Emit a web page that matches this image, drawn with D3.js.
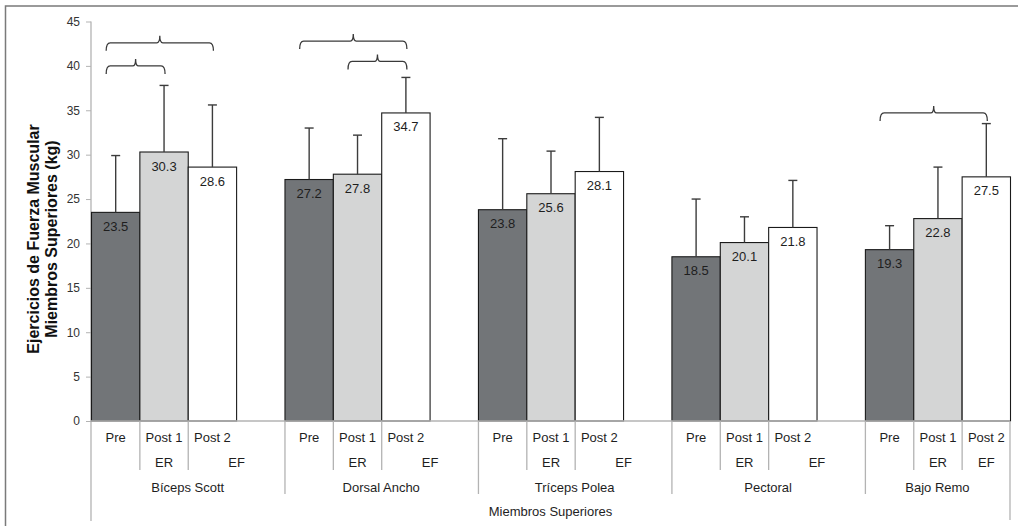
<!DOCTYPE html>
<html>
<head>
<meta charset="utf-8">
<script src="https://cdn.jsdelivr.net/npm/d3@7"></script>
<style>
  html, body { margin: 0; padding: 0; background: #fff; }
  svg { display: block; font-family: "Liberation Sans", Arial, sans-serif; }
</style>
</head>
<body>
<svg id="chart" width="1018" height="526"></svg>
<script>
// Exercise groups and measurement phases
const groups = ["Bíceps Scott", "Dorsal Ancho", "Tríceps Polea", "Pectoral", "Bajo Remo"];
const phases = ["Pre", "Post 1", "Post 2"];
const subLabels = ["", "ER", "EF"];
const axisTitle = "Miembros Superiores";
const yTitle = ["Ejercicios de Fuerza Muscular", "Miembros Superiores (kg)"];

// Mean strength (kg) per phase
const preValues   = [23.5, 27.2, 23.8, 18.5, 19.3];
const post1Values = [30.3, 27.8, 25.6, 20.1, 22.8];
const post2Values = [28.6, 34.7, 28.1, 21.8, 27.5];

// Standard deviation (upper error bar) per phase
const preErr   = [6.4, 5.8, 8.0, 6.5, 2.7];
const post1Err = [7.5, 4.4, 4.8, 2.9, 5.8];
const post2Err = [7.0, 4.0, 6.1, 5.3, 6.0];

const yTicks = [0, 5, 10, 15, 20, 25, 30, 35, 40, 45];

// Significance brackets: group index, from phase, to phase, level (kg)
const bracketGroup = [0, 0, 1, 1, 4];
const bracketFrom  = [0, 0, 0, 1, 0];
const bracketTo    = [2, 1, 2, 2, 2];
const bracketLevel = [42.6, 40.0, 42.8, 40.5, 34.7];

const fills = ["#727578", "#d4d5d5", "#ffffff"];
const seriesValues = [preValues, post1Values, post2Values];
const seriesErr = [preErr, post1Err, post2Err];

const svg = d3.select("#chart");

// Outer frame
svg.append("path")
  .attr("d", "M5.5,530 L5.5,6 L1030,6")
  .attr("fill", "none").attr("stroke", "#7a7a7a").attr("stroke-width", 1.5);

const plotLeft = 91, plotRight = 1010, plotTop = 21.5, plotBottom = 421;

// Slots: four per group (three phases + spacer), last group without spacer
const slots = [];
groups.forEach((g, gi) => {
  phases.forEach((p, pi) => slots.push(`${gi}-${pi}`));
  if (gi < groups.length - 1) slots.push(`${gi}-gap`);
});

const x = d3.scaleBand().domain(slots).range([plotLeft, plotRight]).padding(0);
const y = d3.scaleLinear().domain([0, 45]).range([plotBottom, plotTop]);

const axisColor = "#b3b3b3";

// Y axis
const yAxis = svg.append("g")
  .attr("transform", `translate(${plotLeft},0)`)
  .call(d3.axisLeft(y).tickValues(yTicks).tickSize(5).tickPadding(6));
yAxis.select(".domain").remove();
yAxis.selectAll(".tick line").attr("stroke", axisColor);
yAxis.selectAll(".tick text")
  .attr("fill", "#333").style("font-size", "12px")
  .style("font-family", "'Liberation Sans', Arial, sans-serif");
svg.append("line")
  .attr("x1", plotLeft).attr("x2", plotLeft).attr("y1", plotTop).attr("y2", 521)
  .attr("stroke", axisColor).attr("stroke-width", 1.3);

// Bars
const barData = [];
groups.forEach((g, gi) => phases.forEach((p, pi) => barData.push({
  gi, pi, value: seriesValues[pi][gi], err: seriesErr[pi][gi]
})));

svg.append("g").selectAll("rect").data(barData).join("rect")
  .attr("x", d => x(`${d.gi}-${d.pi}`) + 0.5)
  .attr("y", d => y(d.value))
  .attr("width", x.bandwidth())
  .attr("height", d => y(0) - y(d.value))
  .attr("fill", d => fills[d.pi])
  .attr("stroke", "#1a1a1a").attr("stroke-width", 1.1);

// X axis baseline
svg.append("line")
  .attr("x1", plotLeft).attr("x2", plotRight).attr("y1", plotBottom).attr("y2", plotBottom)
  .attr("stroke", axisColor).attr("stroke-width", 1.3);

// Error bars (upper)
const eb = svg.append("g").attr("stroke", "#3c3c3c").attr("stroke-width", 1.4);
barData.forEach(d => {
  const cx = x(`${d.gi}-${d.pi}`) + x.bandwidth() / 2 + 0.5;
  const y0 = y(d.value), y1 = y(d.value + d.err);
  eb.append("line").attr("x1", cx).attr("x2", cx).attr("y1", y0).attr("y2", y1);
  eb.append("line").attr("x1", cx - 4.5).attr("x2", cx + 4.5).attr("y1", y1).attr("y2", y1);
});

// Value labels inside the bars
svg.append("g").selectAll("text").data(barData).join("text")
  .attr("x", d => x(`${d.gi}-${d.pi}`) + x.bandwidth() / 2 + 0.5)
  .attr("y", d => y(d.value) + 18.5)
  .attr("text-anchor", "middle")
  .attr("fill", "#1e1e1e")
  .style("font-size", "13px")
  .text(d => d.value.toFixed(1));

// Significance brackets
const br = svg.append("g").attr("fill", "none").attr("stroke", "#3a3a3a").attr("stroke-width", 1.3);
bracketGroup.forEach((gi, i) => {
  const c1 = x(`${gi}-${bracketFrom[i]}`) + x.bandwidth() / 2;
  const c2 = x(`${gi}-${bracketTo[i]}`) + x.bandwidth() / 2;
  const x1 = c1 - 9, x2 = c2 + 1.5, xm = (x1 + x2) / 2;
  const y0 = y(bracketLevel[i]);
  const drop = 8, rise = 7;
  const p = `M${x1},${y0 + drop} Q${x1},${y0} ${x1 + 4},${y0} L${xm - 3},${y0} ` +
            `Q${xm},${y0} ${xm},${y0 - rise} Q${xm},${y0} ${xm + 3},${y0} ` +
            `L${x2 - 4},${y0} Q${x2},${y0} ${x2},${y0 + drop}`;
  br.append("path").attr("d", p);
});

// Multi-level category axis
const lab = svg.append("g").attr("fill", "#1e1e1e").style("font-size", "13px").attr("text-anchor", "middle");
const sep = svg.append("g").attr("stroke", axisColor).attr("stroke-width", 1.3);
groups.forEach((g, gi) => {
  const gStart = x(`${gi}-0`);
  const gEnd = gi < groups.length - 1 ? x(`${gi}-gap`) + x.bandwidth() : plotRight;
  phases.forEach((p, pi) => {
    const sx = x(`${gi}-${pi}`);
    lab.append("text").attr("x", sx + x.bandwidth() / 2 + 0.5).attr("y", 442).text(p);
    if (pi > 0) {
      sep.append("line").attr("x1", sx + 0.5).attr("x2", sx + 0.5).attr("y1", plotBottom).attr("y2", 470);
      const subEnd = pi === phases.length - 1 ? gEnd : sx + x.bandwidth();
      lab.append("text").attr("x", (sx + subEnd) / 2 + 0.5).attr("y", 467).text(subLabels[pi]);
    }
  });
  lab.append("text").attr("x", (gStart + gEnd) / 2).attr("y", 492).text(g);
  if (gi > 0) {
    sep.append("line").attr("x1", gStart + 0.5).attr("x2", gStart + 0.5).attr("y1", plotBottom).attr("y2", 494);
  }
});
sep.append("line").attr("x1", plotRight).attr("x2", plotRight).attr("y1", plotBottom).attr("y2", 520);
lab.append("text").attr("x", (plotLeft + plotRight) / 2).attr("y", 516).text(axisTitle);

// Y axis title
const yt = svg.append("text")
  .attr("transform", "translate(0,239) rotate(-90)")
  .attr("text-anchor", "middle")
  .attr("fill", "#111")
  .style("font-size", "16px").style("font-weight", "bold");
yt.append("tspan").attr("x", 0).attr("y", 39).text(yTitle[0]);
yt.append("tspan").attr("x", 0).attr("y", 57).text(yTitle[1]);
</script>
</body>
</html>
